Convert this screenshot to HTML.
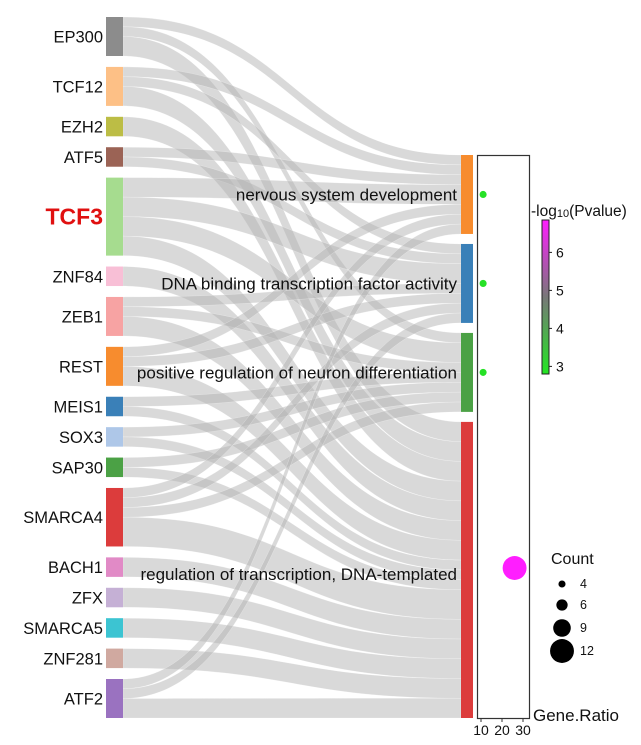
<!DOCTYPE html>
<html><head><meta charset="utf-8"><style>
body{margin:0;background:#fff;width:641px;height:740px;overflow:hidden}
svg{font-family:"Liberation Sans",Arial,sans-serif}
</style></head><body>
<svg id="c" width="641" height="740"></svg>
<script>
const sources=["EP300","TCF12","EZH2","ATF5","TCF3","ZNF84","ZEB1","REST","MEIS1","SOX3","SAP30","SMARCA4","BACH1","ZFX","SMARCA5","ZNF281","ATF2"];
const sourceColors=["#8c8c8c","#fdc086","#bcbd45","#9b6355","#a6dc8f","#f8bfd6","#f7a3a3","#f78c2e","#3a80b8","#aec7e8","#4ba145","#dc3c3c","#e18ac6","#c5b0d5","#3cc4d2","#d0a9a0","#9a72c0"];
const terms=["nervous system development","DNA binding transcription factor activity","positive regulation of neuron differentiation","regulation of transcription, DNA-templated"];
const termColors=["#f78c2e","#3a80b8","#4ba145","#dc3c3c"];
// links: [sourceIndex, termIndex, units]
const links=[[0,0,1],[0,2,1],[0,3,2],[1,0,1],[1,1,1],[1,3,2],[2,3,2],[3,0,1],[3,1,1],[4,0,2],[4,1,2],[4,2,2],[4,3,2],[5,3,2],[6,1,1],[6,2,1],[6,3,2],[7,0,1],[7,1,1],[7,3,2],[8,2,1],[8,3,1],[9,2,1],[9,3,1],[10,2,1],[10,3,1],[11,0,1],[11,1,1],[11,2,1],[11,3,3],[12,3,2],[13,3,2],[14,3,2],[15,3,2],[16,0,1],[16,1,1],[16,3,2]];
const geneRatio=[11,11,11,26];
const pvalue=[2.9,2.9,2.9,6.8];
const counts=[4,4,4,12];
const ratioTicks=[10,20,30];
const pTicks=[3,4,5,6];
const countLegend=[4,6,9,12];

const NS="http://www.w3.org/2000/svg",svg=document.getElementById('c');
function mk(t,a,p){const e=document.createElementNS(NS,t);for(const k in a)e.setAttribute(k,a[k]);(p||svg).appendChild(e);return e;}
const sTot=sources.map((s,i)=>links.filter(l=>l[0]===i).reduce((a,l)=>a+l[2],0));
const tTot=terms.map((s,i)=>links.filter(l=>l[1]===i).reduce((a,l)=>a+l[2],0));
const total=sTot.reduce((a,b)=>a+b,0);
const uL=9.75,gL=(701-total*uL)/(sources.length-1);
const uR=9.87,gR=(563-total*uR)/(terms.length-1);
const sY=[];let y=17;sTot.forEach(v=>{sY.push(y);y+=v*uL+gL;});
const tY=[];y=155;tTot.forEach(v=>{tY.push(y);y+=v*uR+gR;});
const sOff=sY.slice(),tOff=tY.slice();
const byS=links.slice().sort((a,b)=>a[0]-b[0]||a[1]-b[1]);
const pos=new Map();
byS.forEach(l=>{pos.set(l,{s:sOff[l[0]]});sOff[l[0]]+=l[2]*uL;});
links.slice().sort((a,b)=>a[1]-b[1]||a[0]-b[0]).forEach(l=>{pos.get(l).t=tOff[l[1]];tOff[l[1]]+=l[2]*uR;});
const x0=123,x1=461,xm=(x0+x1)/2;
const lg=mk('g',{});
links.forEach(l=>{const p=pos.get(l),s0=p.s,s1=p.s+l[2]*uL,t0=p.t,t1=p.t+l[2]*uR;
 const e=mk('path',{d:`M${x0},${s0}C${xm},${s0} ${xm},${t0} ${x1},${t0}L${x1},${t1}C${xm},${t1} ${xm},${s1} ${x0},${s1}Z`,fill:'#b4b4b4','fill-opacity':0.5,stroke:'#fff','stroke-opacity':0.4,'stroke-width':0.5},lg);
 
 });
sources.forEach((s,i)=>{
 const r=mk('rect',{x:106,y:sY[i],width:17,height:sTot[i]*uL,fill:sourceColors[i]});
 
 const big=s==="TCF3";
 const t=mk('text',{x:103,y:sY[i]+sTot[i]*uL/2+(big?8:6),'text-anchor':'end','font-size':big?23:16.5,fill:big?'#e01010':'#111','font-weight':big?'bold':'normal'});
 t.textContent=s;});
terms.forEach((s,i)=>{
 const h=tTot[i]*uR;
 const r=mk('rect',{x:461,y:tY[i],width:12,height:h,fill:termColors[i]});
 
 const t=mk('text',{x:457,y:(i<3?tY[i]+h/2:574)+6,'text-anchor':'end','font-size':17,fill:'#111'});
 t.textContent=s;});
const box=mk('rect',{x:477.5,y:155.5,width:52,height:563,fill:'none',stroke:'#333','stroke-width':1.2});

const gx=v=>481+(v-10)*2.1;
const rS=c=>2.5+(c-3)*1.05;
const col=p=>{const f=Math.max(0,Math.min(1,(p-2.8)/4));return f<0.5?`rgb(${Math.round(34+(120-34)*f*2)},${Math.round(230-(230-130)*f*2)},${Math.round(34+(120-34)*f*2)})`:`rgb(${Math.round(120+(255-120)*(f-0.5)*2)},${Math.round(130-(130-30)*(f-0.5)*2)},${Math.round(120+(255-120)*(f-0.5)*2)})`;};
terms.forEach((s,i)=>{const cy=i<3?tY[i]+tTot[i]*uR/2:568;
 const d=mk('circle',{cx:gx(geneRatio[i]),cy:cy,r:rS(counts[i]),fill:col(pvalue[i])});
 });
ratioTicks.forEach(v=>{mk('line',{x1:gx(v),x2:gx(v),y1:718,y2:722,stroke:'#333'});
 const t=mk('text',{x:gx(v),y:735,'text-anchor':'middle','font-size':14,fill:'#111'});t.textContent=v;
 });
const xt=mk('text',{x:533,y:721,'font-size':17,fill:'#111'});xt.textContent='Gene.Ratio';

const defs=mk('defs',{});const lgd=mk('linearGradient',{id:'cb',x1:0,y1:1,x2:0,y2:0},defs);
mk('stop',{offset:0,'stop-color':'#22e622'},lgd);mk('stop',{offset:0.5,'stop-color':'#787878'},lgd);mk('stop',{offset:1,'stop-color':'#ff1eff'},lgd);
const cbY=p=>374-(p-2.8)*38;
const cb=mk('rect',{x:542,y:220,width:7,height:154,fill:'url(#cb)',stroke:'#222','stroke-width':1});

const ct=mk('text',{x:531,y:216,'font-size':15.5,fill:'#111'});ct.innerHTML='-log<tspan font-size="11" dy="1">10</tspan><tspan dy="-1">(Pvalue)</tspan>';

pTicks.forEach(v=>{mk('line',{x1:549,x2:552,y1:cbY(v),y2:cbY(v),stroke:'#222'});
 const t=mk('text',{x:556,y:cbY(v)+5,'font-size':14,fill:'#111'});t.textContent=v;
 });
const cl=mk('text',{x:551,y:564,'font-size':16,fill:'#111'});cl.textContent='Count';

const ly=[584,605,628,651];
countLegend.forEach((v,i)=>{const c=mk('circle',{cx:562,cy:ly[i],r:rS(v),fill:'#000'});
 
 const t=mk('text',{x:580,y:ly[i]+4,'font-size':12.5,fill:'#111'});t.textContent=v;
 });
</script>
</body></html>
